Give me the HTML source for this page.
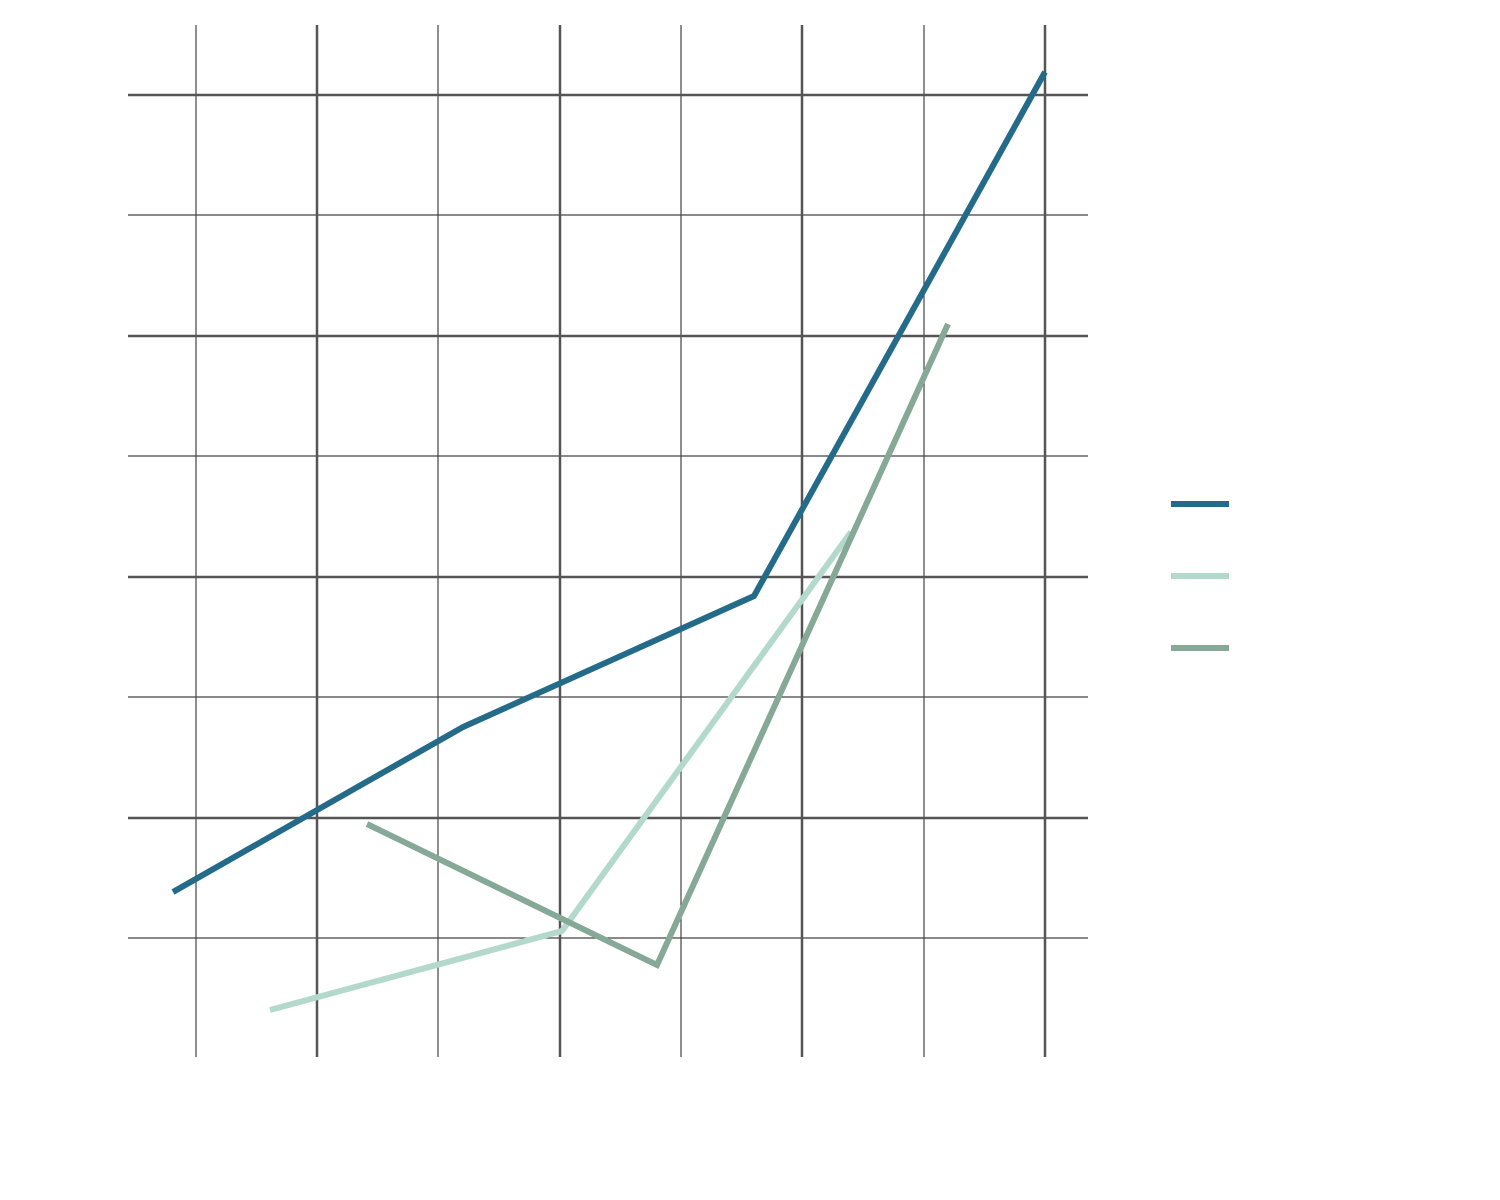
<!DOCTYPE html>
<html><head><meta charset="utf-8"><style>html,body{margin:0;padding:0;background:#fff;}svg{display:block;}</style></head>
<body>
<svg width="1500" height="1200" viewBox="0 0 1500 1200" xmlns="http://www.w3.org/2000/svg">
<g stroke="#444" stroke-width="1.2">
<line x1="196" y1="25" x2="196" y2="1057"/>
<line x1="438" y1="25" x2="438" y2="1057"/>
<line x1="681" y1="25" x2="681" y2="1057"/>
<line x1="924" y1="25" x2="924" y2="1057"/>
<line x1="128" y1="215" x2="1088" y2="215"/>
<line x1="128" y1="456" x2="1088" y2="456"/>
<line x1="128" y1="697" x2="1088" y2="697"/>
<line x1="128" y1="938" x2="1088" y2="938"/>
</g>
<g stroke="#555" stroke-width="2.5">
<line x1="317" y1="25" x2="317" y2="1057"/>
<line x1="560" y1="25" x2="560" y2="1057"/>
<line x1="802" y1="25" x2="802" y2="1057"/>
<line x1="1045" y1="25" x2="1045" y2="1057"/>
<line x1="128" y1="95" x2="1088" y2="95"/>
<line x1="128" y1="336" x2="1088" y2="336"/>
<line x1="128" y1="577" x2="1088" y2="577"/>
<line x1="128" y1="818" x2="1088" y2="818"/>
</g>
<g fill="none" stroke-width="6">
<polyline stroke="#b3d9cc" points="270,1010 562,931 851,532"/>
<polyline stroke="#86a896" points="367,824 657,965 948,324"/>
<polyline stroke="#246b8a" points="173,892 463,727 754,596 1045,72"/>
</g>
<g stroke-width="6">
<line x1="1171" y1="504" x2="1229" y2="504" stroke="#246b8a"/>
<line x1="1171" y1="576" x2="1229" y2="576" stroke="#b3d9cc"/>
<line x1="1171" y1="648" x2="1229" y2="648" stroke="#86a896"/>
</g>
</svg>
</body></html>
